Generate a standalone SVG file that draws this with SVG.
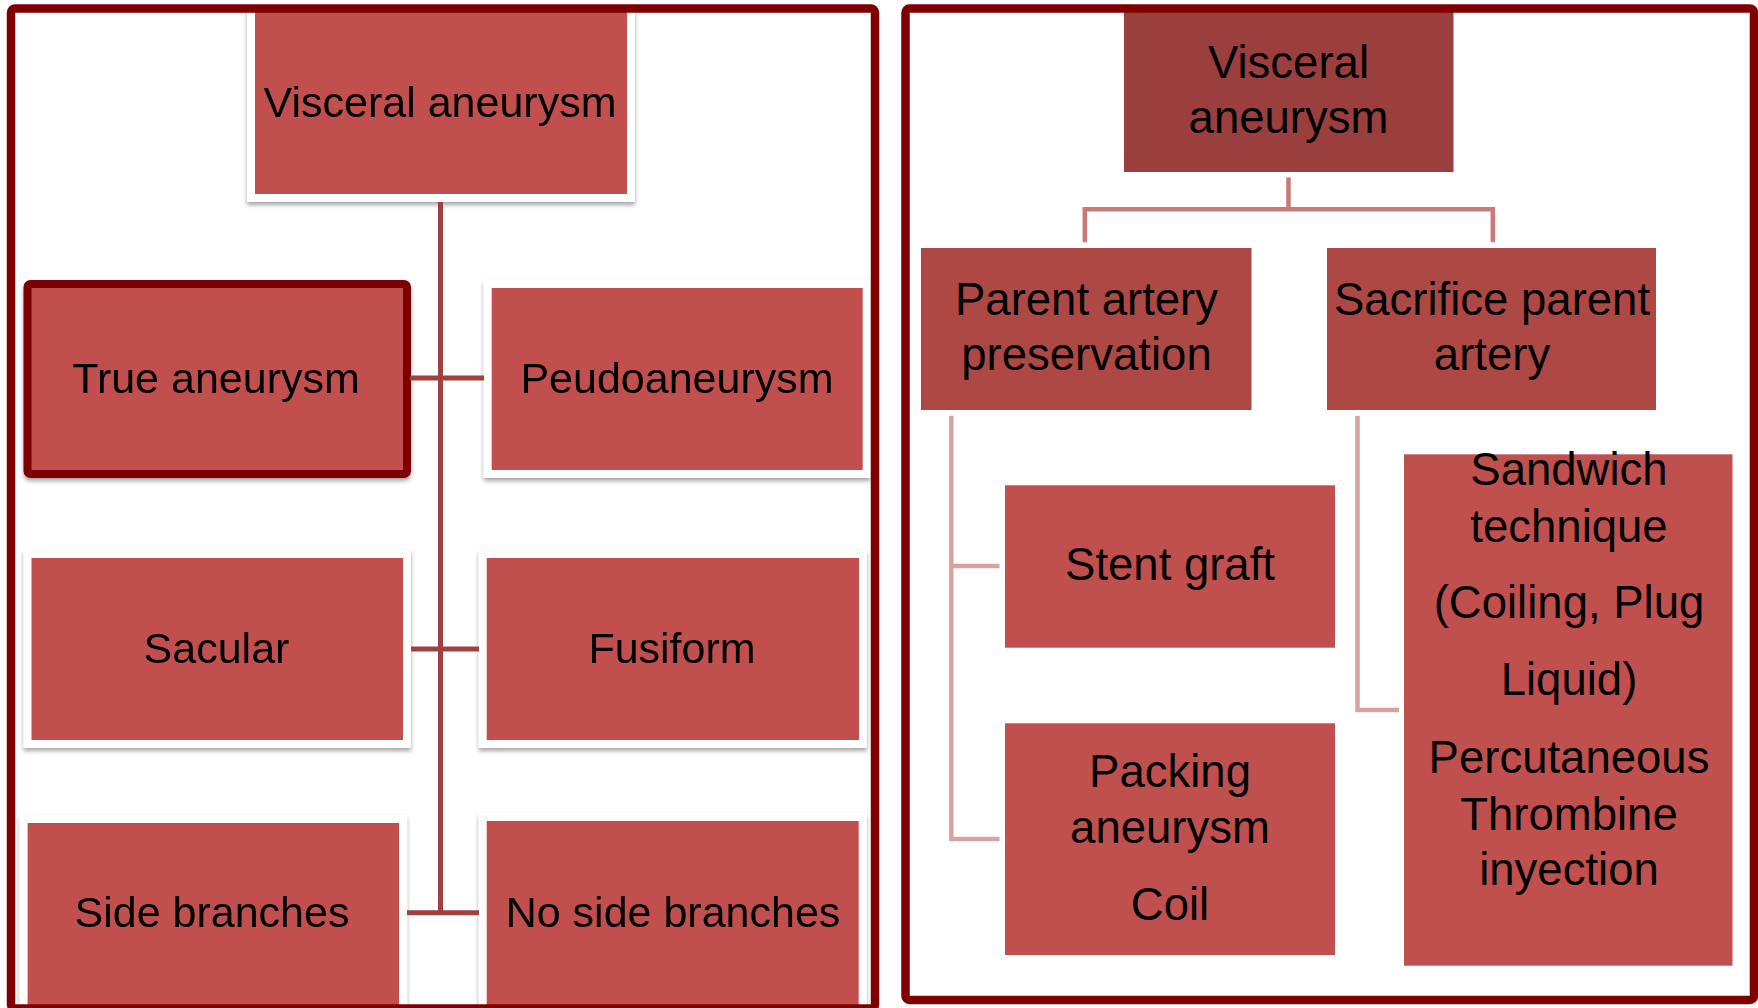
<svg xmlns="http://www.w3.org/2000/svg" width="1758" height="1008" viewBox="0 0 1758 1008">
<defs>
<style>
.t{font-family:"Liberation Sans",Arial,sans-serif;fill:#000;text-anchor:middle}
.l{font-size:43px}
.r{font-size:45.5px}
.fr{fill:#C0504D;stroke:#fff;stroke-width:8}
.plain{fill:#C0504D}
.c1{stroke:#A0403F;stroke-width:5;fill:none}
.c2{stroke:#CC7778;stroke-width:4.5;fill:none}
.c3{stroke:#D8A2A2;stroke-width:4.5;fill:none}
.panel{fill:none;stroke:#800000;stroke-width:8.5}
</style>
<filter id="sh" x="-10%" y="-10%" width="120%" height="130%">
<feDropShadow dx="0" dy="3" stdDeviation="2" flood-color="#000" flood-opacity="0.35"/>
</filter>
<clipPath id="lp"><rect x="15" y="12" width="856" height="996"/></clipPath>
</defs>
<rect width="1758" height="1008" fill="#fff"/>

<g clip-path="url(#lp)">
<g id="l-root" filter="url(#sh)"><rect class="fr" x="251" y="-20" width="380" height="218"/><text class="t l" x="440" y="116.5">Visceral aneurysm</text></g>
<g id="l-true" filter="url(#sh)"><rect x="27.5" y="284" width="379.5" height="190" rx="3" fill="#C0504D" stroke="#7F0000" stroke-width="8"/><text class="t l" x="216" y="392.5">True aneurysm</text></g>
<g id="l-pseudo" filter="url(#sh)"><rect class="fr" x="487.7" y="284" width="379" height="190"/><text class="t l" x="677" y="392.5">Peudoaneurysm</text></g>
<g id="l-sacular" filter="url(#sh)"><rect class="fr" x="27.5" y="554" width="379.5" height="190"/><text class="t l" x="216.5" y="663">Sacular</text></g>
<g id="l-fusiform" filter="url(#sh)"><rect class="fr" x="482.7" y="554" width="380.3" height="190"/><text class="t l" x="672" y="663">Fusiform</text></g>
<g id="l-side" filter="url(#sh)"><rect class="fr" x="23.6" y="819" width="379.5" height="250"/><text class="t l" x="212" y="926.5">Side branches</text></g>
<g id="l-noside" filter="url(#sh)"><rect class="fr" x="482.7" y="817" width="380" height="250"/><text class="t l" x="673" y="926.5">No side branches</text></g>
</g>

<g id="r-root"><rect x="1124" y="10" width="329.5" height="162" fill="#9B3E3E"/><text class="t r" x="1288.5" y="78">Visceral</text><text class="t r" x="1288.5" y="133">aneurysm</text></g>
<g id="r-preserve"><rect x="921" y="248" width="330.5" height="162" fill="#AE4845"/><text class="t r" x="1086.5" y="315">Parent artery</text><text class="t r" x="1086.5" y="370">preservation</text></g>
<g id="r-sacrifice"><rect x="1327" y="248" width="329" height="162" fill="#AE4845"/><text class="t r" x="1492" y="315">Sacrifice parent</text><text class="t r" x="1492" y="370">artery</text></g>
<g id="r-stent"><rect class="plain" x="1005" y="485.3" width="330" height="162.4"/><text class="t r" x="1170" y="580">Stent graft</text></g>
<g id="r-packing"><rect class="plain" x="1005" y="723.3" width="330" height="231.7"/><text class="t r" x="1170" y="786.5">Packing</text><text class="t r" x="1170" y="842.5">aneurysm</text><text class="t r" x="1170" y="919.5">Coil</text></g>
<g id="r-sandwich"><rect class="plain" x="1404" y="454.3" width="328.5" height="511.4"/>
<text class="t r" x="1569" y="485">Sandwich</text>
<text class="t r" x="1569" y="541.5">technique</text>
<text class="t r" x="1569" y="618">(Coiling, Plug</text>
<text class="t r" x="1569" y="695">Liquid)</text>
<text class="t r" x="1569" y="773">Percutaneous</text>
<text class="t r" x="1569" y="830">Thrombine</text>
<text class="t r" x="1569" y="885">inyection</text></g>

<g id="connectors">
<path class="c1" d="M440.5 202 V915 M410 378 H484 M411 649 H479 M407 912.7 H479"/>
<path class="c2" d="M1288.5 177.5 V209.3 M1084.8 242.3 V209.3 H1492.8 V242.3"/>
<path class="c3" d="M951.3 415.7 V839 H999.5 M951.3 566 H999.5 M1357.5 415.7 V710 H1399"/>
</g>

<g id="panels">
<rect class="panel" x="11" y="8.5" width="864" height="1000" rx="4"/>
<rect class="panel" x="905.5" y="8.5" width="848.5" height="991.5" rx="4"/>
</g>
</svg>
